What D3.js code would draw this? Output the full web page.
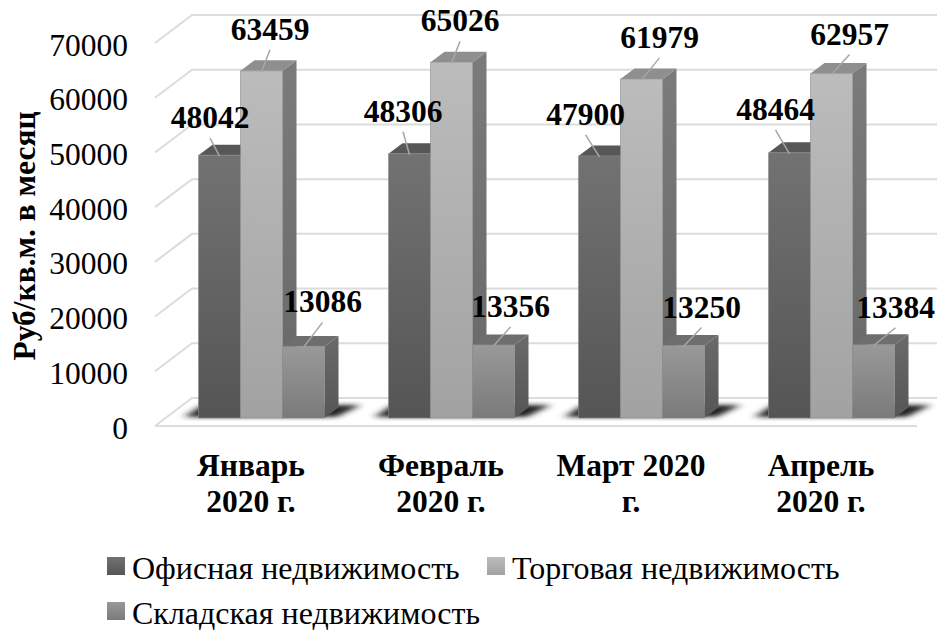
<!DOCTYPE html>
<html>
<head>
<meta charset="utf-8">
<script src="https://cdn.jsdelivr.net/npm/d3@7"></script>
<style>
    body { margin: 0; background: #fff; }
    text { font-family: "Liberation Serif", serif; fill: #000; }
</style>
</head>
<body>
<div id="chart"></div>
<script>
// Data
const categories = ['Январь 2020 г.', 'Февраль 2020 г.', 'Март 2020 г.', 'Апрель 2020 г.'];
const categoryLines = [['Январь', '2020 г.'], ['Февраль', '2020 г.'], ['Март 2020', 'г.'], ['Апрель', '2020 г.']];
const seriesNames = ['Офисная недвижимость', 'Торговая недвижимость', 'Складская недвижимость'];
const office = [48042, 48306, 47900, 48464];
const retail = [63459, 65026, 61979, 62957];
const storage = [13086, 13356, 13250, 13384];
const yTicks = [0, 10000, 20000, 30000, 40000, 50000, 60000, 70000];

// Label offsets from the bar top, by series then month
const labelDx = [[-9.5, -6.5, -14, -14], [8.5, 8.5, 18, 18], [19, 17, 18, 22]];
const labelDy = [[-27, -32, -31, -33], [-31, -31, -31, -29], [-34, -28, -28, -27]];

// Colours: [top, bottom] of the front, then top face and side face
const frontColors = [['#727272', '#555555'], ['#bcbcbc', '#a2a2a2'], ['#999999', '#7a7a7a']];
const topColors = ['#575757', '#8f8f8f', '#6e6e6e'];
const sideColors = [['#5a5a5a', '#444444'], ['#7b7b7b', '#676767'], ['#6a6a6a', '#565656']];

const WIDTH = 937, HEIGHT = 632;
const DEPTH_X = 14, DEPTH_Y = 10.5;     // bar depth
const WALL_X = 37, WALL_Y = 28;         // side wall run
const GRID_LEFT = 155, GRID_RIGHT = 917;

const svg = d3.select('#chart').append('svg')
    .attr('width', WIDTH)
    .attr('height', HEIGHT);

const defs = svg.append('defs');
const addGradient = (id, stops) => {
    const g = defs.append('linearGradient').attr('id', id)
        .attr('x1', 0).attr('y1', 0).attr('x2', 0).attr('y2', 1);
    g.append('stop').attr('offset', '0%').attr('stop-color', stops[0]);
    g.append('stop').attr('offset', '100%').attr('stop-color', stops[1]);
};
frontColors.forEach((c, i) => addGradient('front' + i, c));
sideColors.forEach((c, i) => addGradient('side' + i, c));
defs.append('filter').attr('id', 'blur')
    .attr('x', '-30%').attr('y', '-100%').attr('width', '160%').attr('height', '300%')
    .append('feGaussianBlur').attr('stdDeviation', '4 2');

// Scales. y is the front plane of the bars
const y = d3.scaleLinear().domain([0, 70000]).range([418, 35]);
const x0 = d3.scaleBand().domain(categories).range([166.5, 926.5]);
const x1 = d3.scaleBand().domain(seriesNames)
    .range([32, 158]);
const values = [office, retail, storage];

// Walls: the tick position is on the front edge of the side wall
const wallY = v => y(v) + 8;
const grid = svg.append('g').attr('fill', 'none').attr('stroke', '#dcdcdc').attr('stroke-width', 2);
yTicks.forEach(t => {
    grid.append('path')
        .attr('d', d3.line()([
            [GRID_LEFT, wallY(t)],
            [GRID_LEFT + WALL_X, wallY(t) - WALL_Y],
            [WIDTH, wallY(t) - WALL_Y]
        ]));
});
// Floor front edge
grid.append('path')
    .attr('d', d3.line()([[GRID_LEFT, wallY(0)], [GRID_RIGHT, wallY(0)]]));

// Floor shadows
categories.forEach(c => {
    const left = x0(c) + x1(seriesNames[0]);
    const right = left + x1.bandwidth() * 3;
    svg.append('path')
        .attr('d', d3.line()([
            [left - 14, y(0) - 1],
            [left + 4, y(0) - 13],
            [right + 36, y(0) - 13],
            [right + 12, y(0) - 1]
        ]))
        .attr('fill', '#222222')
        .attr('filter', 'url(#blur)');
});

// Bars, drawn back to front from left to right
seriesNames.forEach((name, s) => {
    categories.forEach((c, i) => {
        const g = svg.append('g');
        const left = x0(c) + x1(name), w = x1.bandwidth();
        const top = y(values[s][i]), bottom = y(0);
        g.append('path')
            .attr('d', d3.line()([[left + w, top], [left + w + DEPTH_X, top - DEPTH_Y],
                [left + w + DEPTH_X, bottom - DEPTH_Y], [left + w, bottom]]))
            .attr('fill', `url(#side${s})`);
        g.append('path')
            .attr('d', d3.line()([[left, top], [left + DEPTH_X, top - DEPTH_Y],
                [left + w + DEPTH_X, top - DEPTH_Y], [left + w, top]]))
            .attr('fill', topColors[s]);
        g.append('rect')
            .attr('x', left).attr('y', top)
            .attr('width', w).attr('height', bottom - top)
            .attr('fill', `url(#front${s})`)
            .attr('stroke', '#8a8a8a').attr('stroke-opacity', 0.6).attr('stroke-width', 1);
    });
});

// Data labels with leader lines
seriesNames.forEach((name, s) => {
    categories.forEach((c, i) => {
        const cx = x0(c) + x1(name) + x1.bandwidth() / 2;
        const top = y(values[s][i]);
        const lx = cx + labelDx[s][i], ly = top + labelDy[s][i];
        svg.append('line')
            .attr('x1', cx).attr('y1', top + 1)
            .attr('x2', lx).attr('y2', ly + 10)
            .attr('stroke', '#a6a6a6').attr('stroke-width', 1.5);
        svg.append('text')
            .attr('x', lx).attr('y', ly)
            .attr('text-anchor', 'middle')
            .attr('font-size', 31.5)
            .attr('font-weight', 'bold')
            .text(values[s][i]);
    });
});

// Y axis on the front edge of the side wall
const yAxis = svg.append('g')
    .attr('transform', 'translate(128,10)')
    .call(d3.axisLeft(y).tickValues(yTicks).tickSize(0).tickPadding(0).tickFormat(d3.format('d')));
yAxis.select('.domain').remove();
yAxis.selectAll('text').attr('font-size', 31.5).attr('font-family', '"Liberation Serif", serif');

svg.append('text')
    .attr('transform', 'translate(35,236) rotate(-90)')
    .attr('text-anchor', 'middle')
    .attr('font-size', 31.5)
    .attr('font-weight', 'bold')
    .text('Руб/кв.м. в месяц');

// Category labels
categories.forEach((c, i) => {
    const t = svg.append('text')
        .attr('text-anchor', 'middle')
        .attr('font-size', 31.5)
        .attr('font-weight', 'bold');
    categoryLines[i].forEach((line, k) => {
        t.append('tspan')
            .attr('x', x0(c) + x0.bandwidth() / 2 - 10.5)
            .attr('y', 476 + k * 36)
            .text(line);
    });
});

// Legend
const legendX = [107, 487, 107];
const legendY = [579, 579, 624];
seriesNames.forEach((name, s) => {
    svg.append('rect')
        .attr('x', legendX[s]).attr('y', legendY[s] - 22)
        .attr('width', 18).attr('height', 18)
        .attr('fill', `url(#front${s})`);
    svg.append('text')
        .attr('x', legendX[s] + 25).attr('y', legendY[s])
        .attr('font-size', 32)
        .text(name);
});
</script>
</body>
</html>
